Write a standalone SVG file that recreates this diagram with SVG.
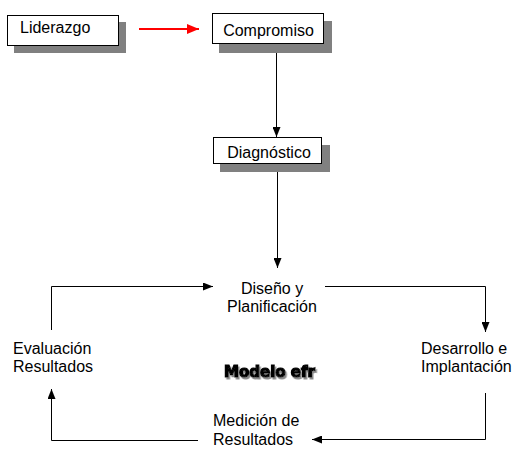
<svg xmlns="http://www.w3.org/2000/svg" width="514" height="452" viewBox="0 0 514 452">
<defs>
<style>
.t{font-family:"Liberation Sans",Arial,sans-serif;font-size:16px;fill:#000}
.box{fill:#fff;stroke:#000;stroke-width:1}
.sh{fill:#808080}
.ln{fill:none;stroke:#000;stroke-width:1}
.m{font-family:"DejaVu Sans",sans-serif;font-weight:bold;font-size:15px}
</style>
<filter id="ds" x="-10%" y="-30%" width="130%" height="180%">
<feDropShadow dx="1.5" dy="2" stdDeviation="0.7" flood-color="#888" flood-opacity="1"/>
</filter>
<marker id="ah" markerWidth="10" markerHeight="8" refX="10" refY="4" orient="auto" markerUnits="userSpaceOnUse">
<path d="M0,0 L10,4 L0,8 Z" fill="#000"/>
</marker>
<marker id="ahr" markerWidth="12" markerHeight="10" refX="12" refY="5" orient="auto" markerUnits="userSpaceOnUse">
<path d="M0,0 L12,5 L0,10 Z" fill="#f00"/>
</marker>
</defs>
<rect width="514" height="452" fill="#fff"/>
<g id="connectors">
<line x1="139" y1="29" x2="199" y2="29" stroke="#f00" stroke-width="2" marker-end="url(#ahr)"/>
<line class="ln" x1="276.5" y1="52" x2="276.5" y2="137" marker-end="url(#ah)"/>
<line class="ln" x1="277.5" y1="172" x2="277.5" y2="268" marker-end="url(#ah)"/>
<polyline class="ln" points="51.5,330 51.5,286.5 213,286.5" marker-end="url(#ah)"/>
<polyline class="ln" points="325,286.5 485.5,286.5 485.5,332" marker-end="url(#ah)"/>
<polyline class="ln" points="485.5,393 485.5,439.5 312,439.5" marker-end="url(#ah)"/>
<polyline class="ln" points="198,440.5 51.5,440.5 51.5,389" marker-end="url(#ah)"/>
</g>
<g id="liderazgo">
<rect class="sh" x="14" y="22" width="112" height="31"/>
<rect class="box" x="7.5" y="15.5" width="111" height="30"/>
<text class="t" x="20" y="33">Liderazgo</text>
</g>
<g id="compromiso">
<rect class="sh" x="219" y="21" width="113" height="32"/>
<rect class="box" x="212.5" y="13.5" width="111" height="30"/>
<text class="t" x="268.5" y="36" text-anchor="middle">Compromiso</text>
</g>
<g id="diagnostico">
<rect class="sh" x="220" y="145" width="110" height="27"/>
<rect class="box" x="213.5" y="137.5" width="108" height="26"/>
<text class="t" x="269" y="158" text-anchor="middle">Diagnóstico</text>
</g>
<g id="diseno">
<text class="t" x="272" y="294" text-anchor="middle">Diseño y</text>
<text class="t" x="272" y="312" text-anchor="middle">Planificación</text>
</g>
<g id="desarrollo">
<text class="t" x="421" y="354">Desarrollo e</text>
<text class="t" x="421" y="372">Implantación</text>
</g>
<g id="medicion">
<text class="t" x="213" y="426">Medición de</text>
<text class="t" x="213" y="445">Resultados</text>
</g>
<g id="evaluacion">
<text class="t" x="13" y="354">Evaluación</text>
<text class="t" x="13" y="372">Resultados</text>
</g>
<g id="modelo">
<text class="m" x="269.5" y="377" text-anchor="middle" fill="#000" stroke="#000" stroke-width="1.2" filter="url(#ds)">Modelo efr</text>
</g>
</svg>
